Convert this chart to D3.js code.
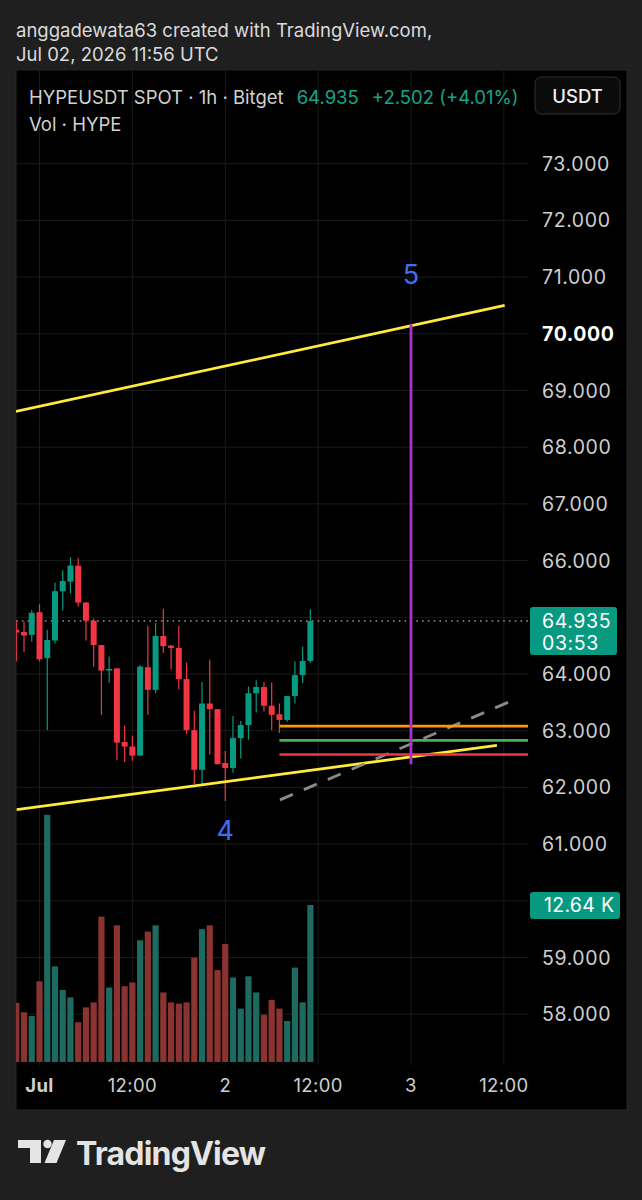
<!DOCTYPE html>
<html>
<head>
<meta charset="utf-8">
<script src="https://cdn.jsdelivr.net/npm/d3@7"></script>
<style>
  html, body { margin: 0; background: #1f1f1f; }
  svg { display: block; font-family: Inter, "Noto Sans", sans-serif; }
</style>
</head>
<body>
<div id="chart"></div>
<script>
// HYPEUSDT 1h candles, first bar Jun 30 21:00 UTC
const firstBar = Date.UTC(2026, 5, 30, 21);
const opens  = [64.78, 64.74, 64.69, 65.09, 64.28, 64.59, 65.46, 65.63, 65.91, 65.26,
                64.94, 64.51, 64.06, 64.10, 62.80, 62.72, 62.56, 64.12, 63.72, 64.67,
                64.50, 64.46, 63.91, 63.01, 62.31, 63.48, 63.38, 62.43, 62.34, 62.87,
                63.10, 63.66, 63.77, 63.44, 63.29, 63.19, 63.61, 63.98, 64.23];
const highs  = [64.93, 64.92, 65.13, 65.23, 64.78, 65.61, 65.83, 66.06, 66.04, 65.27,
                64.98, 64.51, 64.31, 64.10, 63.09, 62.91, 64.16, 64.85, 64.90, 65.15,
                64.51, 64.85, 64.20, 63.35, 63.86, 64.25, 63.38, 62.64, 63.26, 63.17,
                63.78, 63.89, 63.86, 63.85, 63.48, 63.61, 64.22, 64.48, 65.14];
const lows   = [64.22, 64.39, 64.57, 64.22, 63.01, 64.54, 65.12, 65.42, 65.19, 64.59,
                64.13, 63.28, 63.85, 62.48, 62.45, 62.47, 62.56, 63.28, 63.66, 64.37,
                64.08, 63.73, 62.94, 62.06, 62.06, 62.58, 62.40, 61.76, 62.26, 62.51,
                62.84, 63.32, 63.34, 63.01, 62.96, 63.16, 63.48, 63.84, 64.20];
const closes = [64.73, 64.68, 65.08, 64.26, 64.60, 65.46, 65.64, 65.91, 65.26, 64.94,
                64.51, 64.06, 64.09, 62.79, 62.72, 62.56, 64.13, 63.72, 64.67, 64.49,
                64.46, 63.91, 63.01, 62.31, 63.48, 63.38, 62.41, 62.34, 62.87, 63.10,
                63.66, 63.77, 63.44, 63.28, 63.19, 63.61, 63.98, 64.23, 64.935];
// volume in thousands of HYPE
const volumes = [4.75, 4.0, 3.7, 6.5, 19.9, 7.7, 5.8, 5.2, 3.2, 4.4,
                 4.8, 11.7, 6.0, 11.0, 6.1, 6.4, 9.8, 10.5, 11.0, 5.6,
                 4.8, 4.7, 4.8, 8.4, 10.7, 11.0, 7.4, 9.5, 6.8, 4.3,
                 6.9, 5.6, 3.8, 5.0, 4.3, 3.3, 7.6, 4.8, 12.64];

const lastPrice = 64.935;
const lastVolume = 12.64;
const priceTicks = [58, 59, 60, 61, 62, 63, 64, 65, 66, 67, 68, 69, 70, 71, 72, 73];
const hiddenPriceTicks = [60, 65];
const boldPriceTicks = [70];
const timeTicks = [0, 12, 24, 36, 48, 60];               // hours after Jul 1 00:00
const timeLabels = ["Jul", "12:00", "2", "12:00", "3", "12:00"];

// drawings: [hours after Jul 1 00:00, price]
const upperChannel = [[-3.04, 68.63], [60.1, 70.50]];
const lowerChannel = [[-2.95, 61.61], [59.1, 62.74]];
const dashedTrend  = [[31.07, 61.78], [61.4, 63.55]];
const levelStart = 31;
const levels = [
  { price: 63.08, color: "#ff9800" },
  { price: 62.83, color: "#4caf50" },
  { price: 62.58, color: "#f23645" }
];
const targetLine = [[48, 70.17], [48, 62.41]];
const waveLabels = [
  { h: 48, price: 71.05, text: "5" },
  { h: 24, price: 61.25, text: "4" }
];

const W = 642, H = 1200;
const box = { left: 16, right: 627, top: 70, bottom: 1110 };
const plot = { left: 16, right: 528, top: 70, bottom: 1065 };
const up = "#089981", down = "#f23645";
const upVol = "#1d6a60", downVol = "#8a3330";

const t0 = Date.UTC(2026, 6, 1, 0);
const hr = 3600e3;
const x = d3.scaleUtc()
  .domain([new Date(t0), new Date(t0 + 48 * hr)])
  .range([39.5, 411]);
const xh = h => x(new Date(t0 + h * hr));
const y = d3.scaleLinear().domain([63, 73]).range([730.7, 163.7]);
const yv = d3.scaleLinear().domain([0, lastVolume]).range([1062, 905]);

const bars = opens.map((o, i) => ({
  t: new Date(firstBar + i * hr), o, h: highs[i], l: lows[i], c: closes[i], v: volumes[i]
}));

const svg = d3.select("#chart").append("svg").attr("width", W).attr("height", H);

// header
svg.append("text").attr("x", 16).attr("y", 37).attr("fill", "#dadada")
  .style("font-size", "18.5px").text("anggadewata63 created with TradingView.com,");
svg.append("text").attr("x", 16).attr("y", 61).attr("fill", "#dadada")
  .style("font-size", "18.5px").text("Jul 02, 2026 11:56 UTC");

// chart box
svg.append("rect").attr("x", box.left).attr("y", box.top)
  .attr("width", box.right - box.left).attr("height", box.bottom - box.top)
  .attr("fill", "#000").attr("stroke", "#262626");

svg.append("clipPath").attr("id", "plotClip").append("rect")
  .attr("x", plot.left).attr("y", plot.top)
  .attr("width", plot.right - plot.left).attr("height", plot.bottom - plot.top);

// grid
const grid = svg.append("g").attr("stroke", "#1a1a1a").attr("stroke-width", 1);
grid.selectAll(".hg").data(priceTicks).join("line")
  .attr("x1", plot.left).attr("x2", plot.right)
  .attr("y1", d => y(d)).attr("y2", d => y(d));
grid.selectAll(".vg").data(timeTicks).join("line")
  .attr("x1", d => xh(d)).attr("x2", d => xh(d))
  .attr("y1", plot.top).attr("y2", plot.bottom);

const pane = svg.append("g").attr("clip-path", "url(#plotClip)");

// volume
pane.append("g").selectAll("rect").data(bars).join("rect")
  .attr("x", d => x(d.t) - 3.1).attr("width", 6.2)
  .attr("y", d => yv(d.v)).attr("height", d => yv(0) - yv(d.v))
  .attr("fill", d => d.c >= d.o ? upVol : downVol);

// last price line
pane.append("line")
  .attr("x1", plot.left).attr("x2", plot.right)
  .attr("y1", y(lastPrice)).attr("y2", y(lastPrice))
  .attr("stroke", "#a88a8e").attr("stroke-width", 1.6).attr("stroke-dasharray", "1.6,4.2");

// candles
const candle = pane.append("g").selectAll("g").data(bars).join("g")
  .attr("fill", d => d.c >= d.o ? up : down)
  .attr("stroke", d => d.c >= d.o ? up : down);
candle.append("line")
  .attr("x1", d => x(d.t)).attr("x2", d => x(d.t))
  .attr("y1", d => y(d.h)).attr("y2", d => y(d.l)).attr("stroke-width", 1.2);
candle.append("rect")
  .attr("x", d => x(d.t) - 3).attr("width", 6)
  .attr("y", d => y(Math.max(d.o, d.c)))
  .attr("height", d => Math.max(1.5, Math.abs(y(d.o) - y(d.c))))
  .attr("stroke", "none");

// drawings
const line = d3.line().x(d => xh(d[0])).y(d => y(d[1]));
pane.append("path").attr("d", line(upperChannel)).attr("fill", "none")
  .attr("stroke", "#ffeb3b").attr("stroke-width", 2.8);
pane.append("path").attr("d", line(lowerChannel)).attr("fill", "none")
  .attr("stroke", "#ffeb3b").attr("stroke-width", 2.8);
pane.append("path").attr("d", line(dashedTrend)).attr("fill", "none")
  .attr("stroke", "#8a8a8a").attr("stroke-width", 2.8).attr("stroke-dasharray", "14,12");
pane.selectAll(".lvl").data(levels).join("line")
  .attr("x1", xh(levelStart)).attr("x2", plot.right)
  .attr("y1", d => y(d.price)).attr("y2", d => y(d.price))
  .attr("stroke", d => d.color).attr("stroke-width", 2.6);
pane.append("path").attr("d", line(targetLine)).attr("fill", "none")
  .attr("stroke", "#a834c9").attr("stroke-width", 2.8);
pane.selectAll(".wave").data(waveLabels).join("text")
  .attr("x", d => xh(d.h)).attr("y", d => y(d.price)).attr("dy", "0.36em")
  .attr("text-anchor", "middle").attr("fill", "#3f6ff0")
  .style("font-size", "27px").text(d => d.text);

// price axis
const axisFont = { size: "19.5px", spacing: "0.6px" };
svg.append("g").selectAll("text")
  .data(priceTicks.filter(d => !hiddenPriceTicks.includes(d)))
  .join("text")
  .attr("x", 542).attr("y", d => y(d)).attr("dy", "0.36em")
  .attr("fill", d => boldPriceTicks.includes(d) ? "#ffffff" : "#cfcfcf")
  .style("font-size", axisFont.size).style("letter-spacing", axisFont.spacing)
  .style("font-weight", d => boldPriceTicks.includes(d) ? 700 : 400)
  .text(d => d3.format(".3f")(d));

// last price badge
svg.append("rect").attr("x", 530).attr("y", y(lastPrice) - 14)
  .attr("width", 87).attr("height", 48).attr("rx", 3).attr("fill", up);
svg.append("text").attr("x", 542).attr("y", y(lastPrice)).attr("dy", "0.36em")
  .attr("fill", "#fff").style("font-size", axisFont.size).style("letter-spacing", axisFont.spacing)
  .text(d3.format(".3f")(lastPrice));
svg.append("text").attr("x", 542).attr("y", y(lastPrice) + 22).attr("dy", "0.36em")
  .attr("fill", "#fff").style("font-size", axisFont.size).style("letter-spacing", axisFont.spacing)
  .text("03:53");

// volume badge
svg.append("rect").attr("x", 530).attr("y", yv(lastVolume) - 13)
  .attr("width", 90).attr("height", 27).attr("rx", 3).attr("fill", up);
svg.append("text").attr("x", 544).attr("y", yv(lastVolume)).attr("dy", "0.36em")
  .attr("fill", "#fff").style("font-size", axisFont.size).style("letter-spacing", "0.3px")
  .text(lastVolume.toFixed(2) + " K");

// time axis
svg.append("g").selectAll("text").data(timeTicks).join("text")
  .attr("x", d => xh(d)).attr("y", 1085).attr("dy", "0.36em")
  .attr("text-anchor", "middle").attr("fill", "#cfcfcf")
  .style("font-size", "18.5px").style("letter-spacing", "0.4px")
  .style("font-weight", (d, i) => i === 0 ? 700 : 400)
  .text((d, i) => timeLabels[i]);

// legend
const legend = svg.append("text").attr("x", 29).attr("y", 97).attr("dy", "0.36em")
  .style("font-size", "18.5px");
legend.append("tspan").attr("fill", "#d1d1d1").text("HYPEUSDT SPOT · 1h · Bitget");
legend.append("tspan").attr("fill", "#15a58a").attr("dx", 13).text(d3.format(".3f")(lastPrice));
legend.append("tspan").attr("fill", "#15a58a").attr("dx", 13).text("+2.502 (+4.01%)");
svg.append("text").attr("x", 29).attr("y", 124).attr("dy", "0.36em")
  .attr("fill", "#d1d1d1").style("font-size", "18.5px").text("Vol · HYPE");

// currency button
svg.append("rect").attr("x", 535).attr("y", 77).attr("width", 85).attr("height", 37)
  .attr("rx", 6).attr("fill", "#0b0b0b").attr("stroke", "#303030");
svg.append("text").attr("x", 577.5).attr("y", 96).attr("dy", "0.36em")
  .attr("text-anchor", "middle").attr("fill", "#f0f0f0")
  .style("font-size", "18.5px").style("font-weight", 500).text("USDT");

// logo
const logo = svg.append("g").attr("fill", "#e4e4e4");
logo.append("path").attr("d", "M18,1140H41V1163H30V1148H18Z");
logo.append("circle").attr("cx", 47.5).attr("cy", 1144).attr("r", 4.2);
logo.append("path").attr("d", "M54,1140H66L56.5,1163H44.5Z");
logo.append("text").attr("x", 76).attr("y", 1165).style("font-size", "32px")
  .style("font-weight", 700).attr("textLength", 190).text("TradingView");
</script>
</body>
</html>
